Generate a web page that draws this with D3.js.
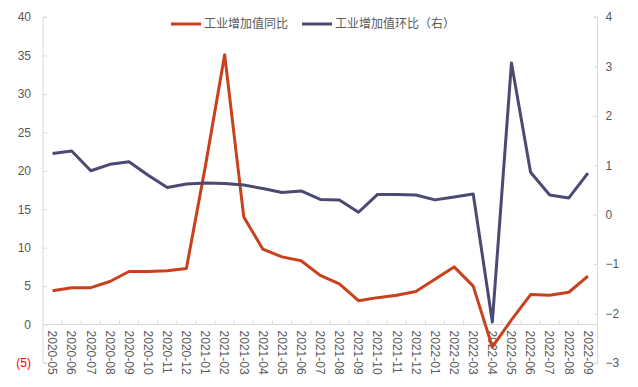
<!DOCTYPE html>
<html>
<head>
    <meta charset="utf-8">
    <title>工业增加值</title>
    <script src="https://cdnjs.cloudflare.com/ajax/libs/d3/7.8.5/d3.min.js"></script>
    <style>
        body { margin: 0; background: #fff; }
        .axis text { font-family: "Liberation Sans", Arial, sans-serif; font-size: 12px; fill: #595959; }
        .axis path, .axis line { stroke: #d9d9d9; }
        .legend text { font-family: "Noto Sans CJK SC", sans-serif; font-size: 12px; fill: #595959; }
    </style>
</head>
<body>
    <div id="chart"></div>
    <script>
        const months = ['2020-05','2020-06','2020-07','2020-08','2020-09','2020-10','2020-11','2020-12',
            '2021-01','2021-02','2021-03','2021-04','2021-05','2021-06','2021-07','2021-08','2021-09',
            '2021-10','2021-11','2021-12','2022-01','2022-02','2022-03','2022-04','2022-05','2022-06',
            '2022-07','2022-08','2022-09'];

        // 工业增加值同比 (left axis)
        const yoy = [4.4, 4.8, 4.8, 5.6, 6.9, 6.9, 7.0, 7.3,
            20.7, 35.1, 14.0, 9.8, 8.8, 8.3, 6.4, 5.3, 3.1,
            3.5, 3.8, 4.3, 5.9, 7.5, 5.0, -2.9, 0.6, 3.9,
            3.8, 4.2, 6.3];

        // 工业增加值环比 (right axis)
        const mom = [1.24, 1.29, 0.89, 1.02, 1.07, 0.80, 0.55, 0.62,
            0.64, 0.63, 0.60, 0.53, 0.45, 0.48, 0.31, 0.30, 0.05,
            0.41, 0.41, 0.40, 0.30, 0.36, 0.42, -2.17, 3.07, 0.86,
            0.40, 0.34, 0.84];

        const leftTicks = [-5, 0, 5, 10, 15, 20, 25, 30, 35, 40];
        const rightTicks = [-3, -2, -1, 0, 1, 2, 3, 4];
        const seriesNames = ['工业增加值同比', '工业增加值环比（右）'];
        const colors = ['#c9401c', '#4b4a72'];

        const W = 638, H = 387;
        const plot = {left: 43, right: 597.5, top: 17, bottom: 363};

        const svg = d3.select('#chart').append('svg')
            .attr('width', W).attr('height', H);

        const x = d3.scaleBand().domain(months).range([plot.left, plot.right]);
        const yL = d3.scaleLinear().domain([-5, 40]).range([plot.bottom, plot.top]);
        const yR = d3.scaleLinear().domain([-3, 4]).range([plot.bottom, plot.top]);

        // left axis
        const gL = svg.append('g').attr('class', 'axis')
            .attr('transform', `translate(${plot.left},0)`)
            .call(d3.axisRight(yL).tickValues(leftTicks).tickSize(4)
                .tickFormat(d => d < 0 ? `(${Math.abs(d)})` : d));
        gL.select('.domain').attr('d', `M4,${plot.top}H0V${plot.bottom}H4`);
        gL.selectAll('text').attr('x', -12).attr('text-anchor', 'end')
            .style('fill', d => d < 0 ? '#ff0000' : '#595959');

        // right axis
        const gR = svg.append('g').attr('class', 'axis')
            .attr('transform', `translate(${plot.right},0)`)
            .call(d3.axisLeft(yR).tickValues(rightTicks).tickSize(4)
                .tickFormat(d3.format('d')));
        gR.select('.domain').attr('d', `M-4,${plot.top}H0V${plot.bottom}H-4`);
        gR.selectAll('text').attr('x', 8).attr('text-anchor', 'start');

        // x axis at zero of left axis
        const gX = svg.append('g').attr('class', 'axis')
            .attr('transform', `translate(0,${yL(0)})`)
            .call(d3.axisBottom(x).tickSize(0).tickPadding(0));
        gX.select('.domain').attr('d', `M${plot.left},0H${plot.right}`);
        gX.selectAll('.tick text')
            .attr('transform', 'rotate(90)')
            .attr('x', 6).attr('y', 0).attr('dy', '0.35em')
            .attr('text-anchor', 'start');
        gX.selectAll('.sep').data(months.slice(1)).enter().append('line')
            .attr('class', 'sep')
            .attr('x1', d => x(d)).attr('x2', d => x(d))
            .attr('y1', 0).attr('y2', -4)
            .attr('stroke', '#d9d9d9');

        const cx = d => x(d) + x.bandwidth() / 2;

        const lineL = d3.line().x((d, i) => cx(months[i])).y(d => yL(d));
        const lineR = d3.line().x((d, i) => cx(months[i])).y(d => yR(d));

        svg.append('path').datum(yoy)
            .attr('fill', 'none').attr('stroke', colors[0])
            .attr('stroke-width', 3).attr('stroke-linejoin', 'round')
            .attr('d', lineL);

        svg.append('path').datum(mom)
            .attr('fill', 'none').attr('stroke', colors[1])
            .attr('stroke-width', 3).attr('stroke-linejoin', 'round')
            .attr('d', lineR);

        // legend
        const legend = svg.append('g').attr('class', 'legend');
        const legendX = [171, 302];
        seriesNames.forEach((name, i) => {
            const g = legend.append('g').attr('transform', `translate(${legendX[i]},24)`);
            g.append('line').attr('x1', 0).attr('x2', 30).attr('y1', 0).attr('y2', 0)
                .attr('stroke', colors[i]).attr('stroke-width', 3);
            g.append('text').attr('x', 33).attr('y', 0).attr('dy', '0.35em').text(name);
        });
    </script>
</body>
</html>
